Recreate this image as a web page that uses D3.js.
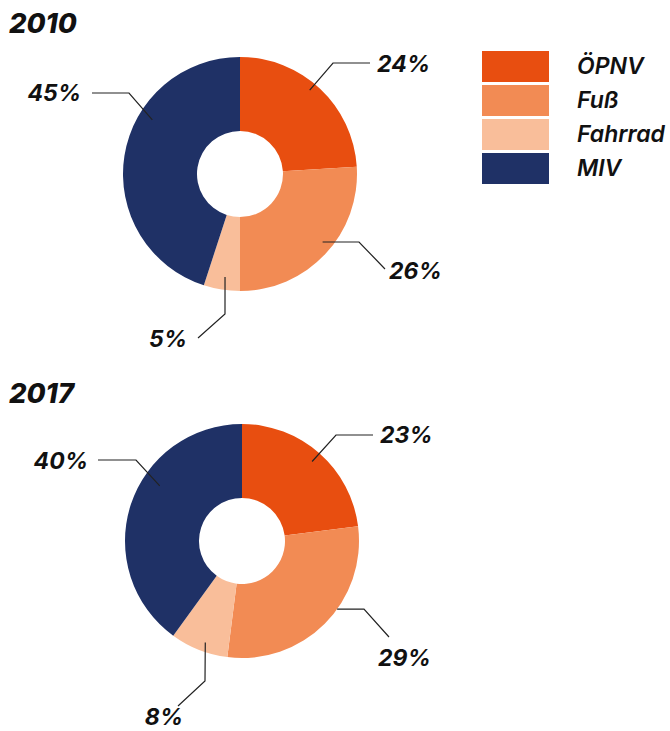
<!DOCTYPE html>
<html>
<head>
<meta charset="utf-8">
<style>
  body { margin: 0; background: #fff; }
  svg text { font-family: Inter, "Noto Sans", sans-serif; font-style: italic; fill: #111; }
</style>
<title>Modal Split</title>
</head>
<body>
<script src="https://cdn.jsdelivr.net/npm/d3@7"></script>
<script>

// data
var categories = ["ÖPNV", "Fuß", "Fahrrad", "MIV"];
var colors     = ["#e84e10", "#f28b54", "#f9be9a", "#1f3166"];
var years      = ["2010", "2017"];
var shares2010 = [24, 26, 5, 45];
var shares2017 = [23, 29, 8, 40];

// layout
var width = 670, height = 731;
var outerR = 117, innerR = 43;

// one entry per chart: centre, title position, leader lines per slice
// leader: t = position inside slice, r = start radius, elbow/end/text offsets from centre
var charts = [
  { year: years[0], values: shares2010, cx: 240, cy: 174, titleY: 33,
    leaders: [
      { t: 0.46, r: 109, elbow: [93, -111], end: [130, -111], text: [137, -102], anchor: "start" },
      { t: 0.46, r: 107, elbow: [119, 68],  end: [145, 95],   text: [149, 105],  anchor: "start" },
      { t: 0.46, r: 104, elbow: [-15, 140], end: [-42, 164],  text: [-53, 173],  anchor: "end" },
      { t: 0.64, r: 103, elbow: [-111, -81], end: [-148, -81], text: [-159, -73], anchor: "end" }
    ] },
  { year: years[1], values: shares2017, cx: 242, cy: 541, titleY: 403,
    leaders: [
      { t: 0.50, r: 106, elbow: [94, -106], end: [131, -106], text: [138, -98],  anchor: "start" },
      { t: 0.41, r: 117, elbow: [122, 68],  end: [147, 96],   text: [136, 125],  anchor: "start" },
      { t: 0.44, r: 108, elbow: [-37, 140], end: [-64, 165],  text: [-59, 184],  anchor: "end" },
      { t: 0.61, r: 99,  elbow: [-106, -81], end: [-144, -81], text: [-154, -72], anchor: "end" }
    ] }
];

var svg = d3.select("body").append("svg")
    .attr("width", width)
    .attr("height", height);

var color = d3.scaleOrdinal().domain(categories).range(colors);

var pie = d3.pie().sort(null).value(d => d.value);
var arc = d3.arc().innerRadius(innerR).outerRadius(outerR);

charts.forEach(function(c) {
  svg.append("text")
      .attr("x", 9)
      .attr("y", c.titleY)
      .style("font-size", "27.5px")
      .style("font-weight", 800)
      .text(c.year);

  var g = svg.append("g")
      .attr("transform", `translate(${c.cx},${c.cy})`);

  var arcs = pie(categories.map((k, i) => ({ key: k, value: c.values[i] })));

  g.selectAll("path.slice")
      .data(arcs)
    .enter().append("path")
      .attr("class", "slice")
      .attr("d", arc)
      .attr("fill", d => color(d.data.key));

  arcs.forEach(function(d, i) {
    var L = c.leaders[i];
    var a = d.startAngle + (d.endAngle - d.startAngle) * L.t;
    var sx = L.r * Math.sin(a), sy = -L.r * Math.cos(a);
    g.append("polyline")
        .attr("points", [[sx, sy], L.elbow, L.end].map(p => p.join(",")).join(" "))
        .attr("fill", "none")
        .attr("stroke", "#222")
        .attr("stroke-width", 1.2);
    g.append("text")
        .attr("x", L.text[0])
        .attr("y", L.text[1])
        .attr("text-anchor", L.anchor)
        .style("font-size", "23px")
        .style("font-weight", 700)
        .text(d.data.value + "%");
  });
});

// legend
var legend = svg.append("g")
    .attr("transform", "translate(482,51)");

var item = legend.selectAll("g")
    .data(categories)
  .enter().append("g")
    .attr("transform", (d, i) => `translate(0,${i * 34})`);

item.append("rect")
    .attr("width", 67)
    .attr("height", 31)
    .attr("fill", d => color(d));

item.append("text")
    .attr("x", 95)
    .attr("y", 23)
    .style("font-size", "23px")
    .style("font-weight", 600)
    .text(d => d);

</script>
</body>
</html>
